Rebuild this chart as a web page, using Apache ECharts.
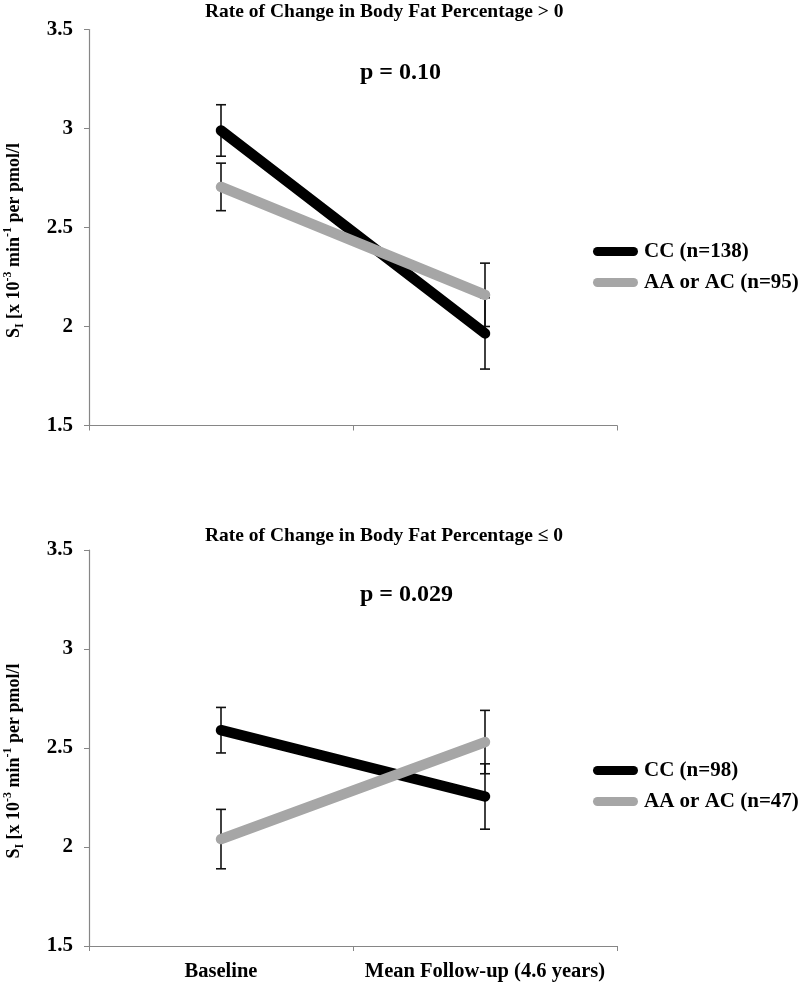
<!DOCTYPE html>
<html>
<head>
<meta charset="utf-8">
<script src="https://cdn.jsdelivr.net/npm/echarts@6/dist/echarts.min.js"></script>
<style>
html,body{margin:0;padding:0;background:#fff;}
#chart{width:800px;height:982px;}
</style>
</head>
<body>
<div id="chart"></div>
<script>
// ---- data ----
var categories = ['Baseline', 'Mean Follow-up (4.6 years)'];
var yTicks = [1.5, 2, 2.5, 3, 3.5];

var topTitle = 'Rate of Change in Body Fat Percentage > 0';
var botTitle = 'Rate of Change in Body Fat Percentage \u2264 0';
var topP = 'p = 0.10';
var botP = 'p = 0.029';

var topNames = ['CC (n=138)', 'AA or AC (n=95)'];
var botNames = ['CC (n=98)', 'AA or AC (n=47)'];

var topCC = [2.99, 1.965];
var topCCErr = [0.13, 0.18];
var topAA = [2.705, 2.16];
var topAAErr = [0.12, 0.16];

var botCC = [2.59, 2.255];
var botCCErr = [0.115, 0.165];
var botAA = [2.04, 2.53];
var botAAErr = [0.15, 0.16];

// ---- styles ----
var FONT = '"Liberation Serif", "Times New Roman", serif';
var BLACK = '#000000';
var GRAY = '#a6a6a6';
var AXIS = '#868686';

function errData(vals, errs) {
  return vals.map(function (v, i) { return [i, v - errs[i], v + errs[i]]; });
}

function renderErr(params, api) {
  var x = api.value(0), lo = api.value(1), hi = api.value(2);
  var pHi = api.coord([x, hi]);
  var pLo = api.coord([x, lo]);
  var w = 5;
  var st = { stroke: '#111', lineWidth: 1.6 };
  return {
    type: 'group',
    children: [
      { type: 'line', shape: { x1: pHi[0], y1: pHi[1], x2: pLo[0], y2: pLo[1] }, style: st },
      { type: 'line', shape: { x1: pHi[0] - w, y1: pHi[1], x2: pHi[0] + w, y2: pHi[1] }, style: st },
      { type: 'line', shape: { x1: pLo[0] - w, y1: pLo[1], x2: pLo[0] + w, y2: pLo[1] }, style: st }
    ]
  };
}

function xAxisCfg(gi, showLabels) {
  return {
    type: 'category', gridIndex: gi, data: categories, boundaryGap: true,
    axisLine: { lineStyle: { color: AXIS, width: 1.2 } },
    axisTick: { show: true, length: 5, lineStyle: { color: AXIS } },
    axisLabel: { show: showLabels, interval: 0, hideOverlap: false, margin: 15, color: '#000',
      fontFamily: FONT, fontWeight: 'bold', fontSize: 20.5 }
  };
}

function yAxisCfg(gi) {
  return {
    type: 'value', gridIndex: gi, min: yTicks[0], max: yTicks[yTicks.length - 1], interval: 0.5,
    splitLine: { show: false },
    axisLine: { show: true, lineStyle: { color: AXIS, width: 1.2 } },
    axisTick: { show: true, length: 5, lineStyle: { color: AXIS } },
    axisLabel: { margin: 16, color: '#000', fontFamily: FONT, fontWeight: 'bold', fontSize: 21,
      formatter: function (v) { return String(v); } },
    name: '{m|S}{sub|I}{m| [x 10}{sup|-3}{m| min}{sup|-1}{m| per pmol/l}',
    nameLocation: 'middle', nameRotate: 90, nameGap: 63,
    nameTextStyle: {
      padding: [0, 26, 0, 0],
      rich: {
        m: { fontFamily: FONT, fontWeight: 'bold', fontSize: 18, color: '#000', lineHeight: 24 },
        sub: { fontFamily: FONT, fontWeight: 'bold', fontSize: 12, color: '#000', lineHeight: 12, verticalAlign: 'bottom' },
        sup: { fontFamily: FONT, fontWeight: 'bold', fontSize: 12, color: '#000', lineHeight: 12, verticalAlign: 'top' }
      }
    }
  };
}

function lineSeries(name, data, color, xi, yi) {
  return {
    type: 'line', name: name, xAxisIndex: xi, yAxisIndex: yi, data: data,
    symbol: 'none', z: 3,
    lineStyle: { color: color, width: 10.5, cap: 'round', join: 'round' },
    itemStyle: { color: color }
  };
}

function errSeries(vals, errs, xi, yi) {
  return {
    type: 'custom', xAxisIndex: xi, yAxisIndex: yi, z: 1,
    renderItem: renderErr, encode: { x: 0, y: [1, 2] },
    data: errData(vals, errs)
  };
}

var pill = 'path://M5,0 H45 A5,5 0 0 1 45,10 H5 A5,5 0 0 1 5,0 Z';

function legendCfg(names, top) {
  return {
    data: names.map(function (n) { return { name: n, icon: pill }; }),
    orient: 'vertical', left: 588, top: top,
    itemWidth: 47, itemHeight: 9, itemGap: 10,
    textStyle: { fontFamily: FONT, fontWeight: 'bold', fontSize: 21, color: '#000' }
  };
}

var titleStyle = { fontFamily: FONT, fontWeight: 'bold', fontSize: 19.5, color: '#000' };
var pStyle = { fontFamily: FONT, fontWeight: 'bold', fontSize: 24, color: '#000' };

var chart = echarts.init(document.getElementById('chart'), null, { renderer: 'canvas' });
chart.setOption({
  backgroundColor: '#fff',
  animation: false,
  title: [
    { text: topTitle, left: 205, top: 2, padding: 0, textStyle: titleStyle },
    { text: botTitle, left: 205, top: 526, padding: 0, textStyle: titleStyle },
    { text: topP, left: 360, top: 61, padding: 0, textStyle: pStyle },
    { text: botP, left: 360, top: 583, padding: 0, textStyle: pStyle }
  ],
  legend: [legendCfg(topNames, 236), legendCfg(botNames, 755)],
  grid: [
    { left: 89, top: 29.5, width: 528, height: 396, containLabel: false, outerBoundsMode: 'none' },
    { left: 89, top: 550, width: 528, height: 396, containLabel: false, outerBoundsMode: 'none' }
  ],
  xAxis: [xAxisCfg(0, false), xAxisCfg(1, true)],
  yAxis: [yAxisCfg(0), yAxisCfg(1)],
  series: [
    errSeries(topCC, topCCErr, 0, 0),
    errSeries(topAA, topAAErr, 0, 0),
    lineSeries(topNames[0], topCC, BLACK, 0, 0),
    lineSeries(topNames[1], topAA, GRAY, 0, 0),
    errSeries(botCC, botCCErr, 1, 1),
    errSeries(botAA, botAAErr, 1, 1),
    lineSeries(botNames[0], botCC, BLACK, 1, 1),
    lineSeries(botNames[1], botAA, GRAY, 1, 1)
  ]
});
</script>
</body>
</html>
